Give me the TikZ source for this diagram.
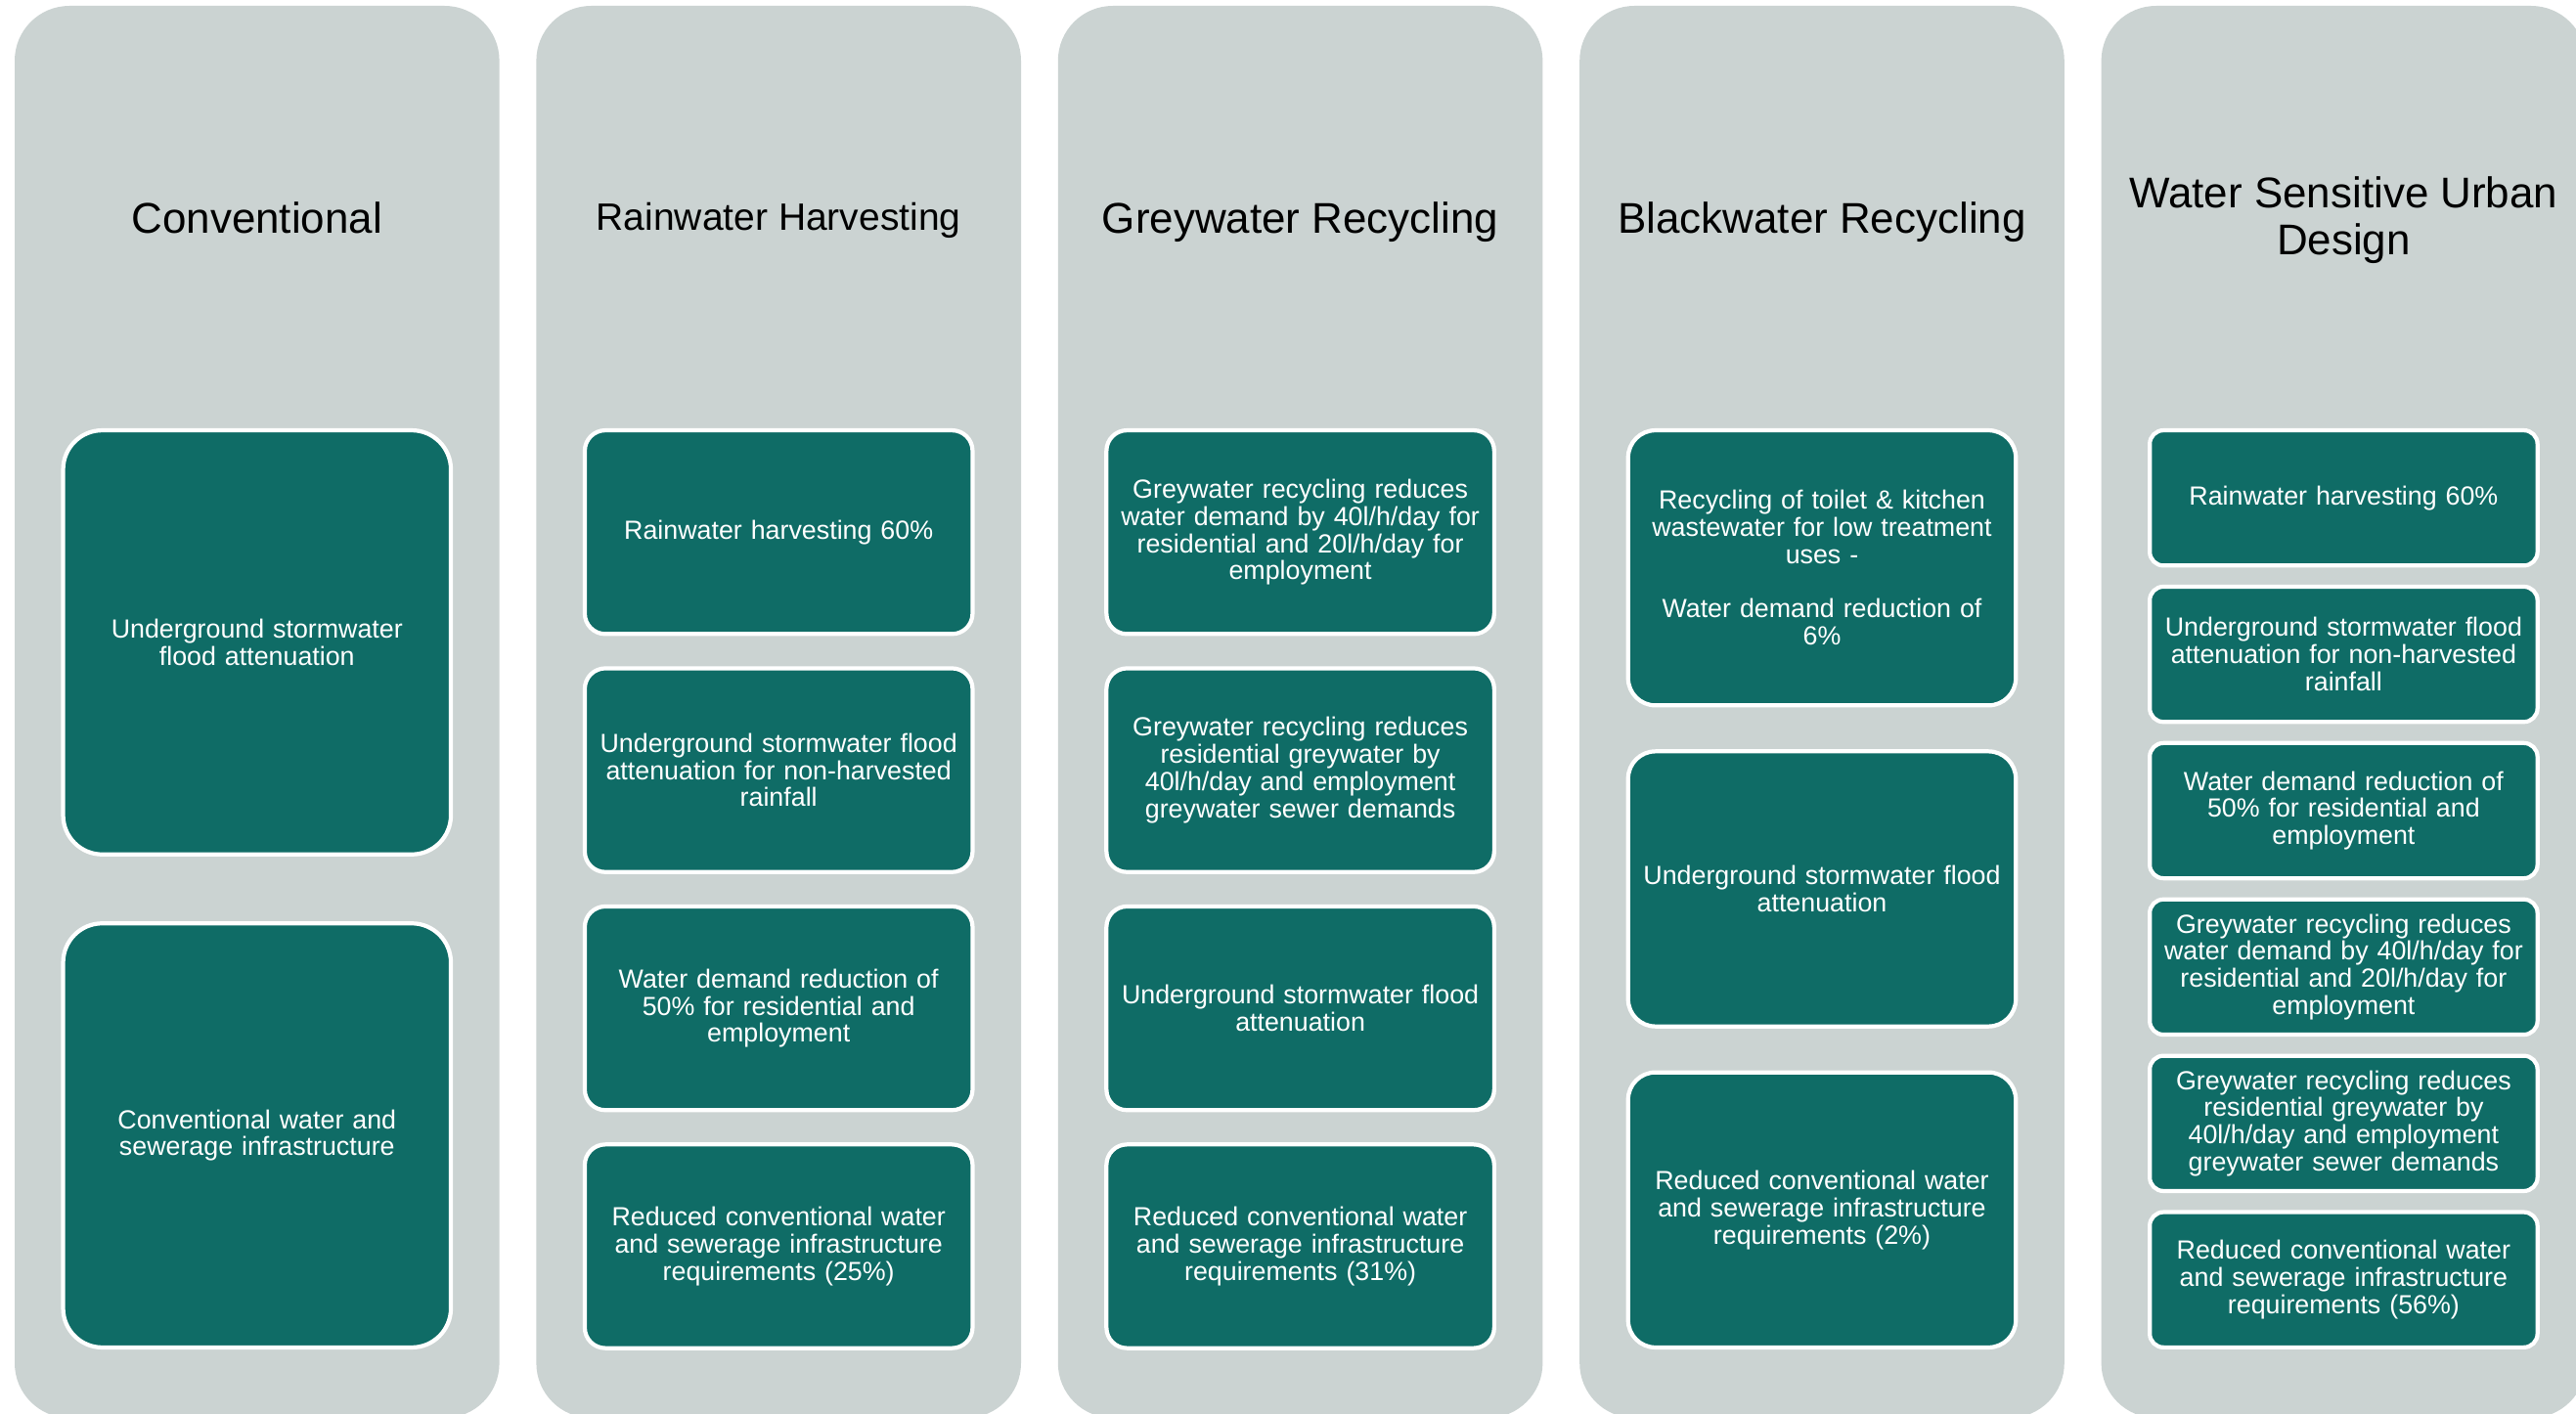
\documentclass[tikz,border=0pt]{standalone}
\usepackage{fontspec}
\setmainfont{Liberation Sans}
\definecolor{lanegrey}{HTML}{CBD3D2}
\definecolor{boxteal}{HTML}{0F6C66}
\begin{document}
\begin{tikzpicture}[
  lane/.style={
    fill=lanegrey,
    rounded corners=0.56cm,
    minimum width=4.956cm,
    minimum height=14.44cm,
    inner sep=0pt
  },
  title/.style={
    align=center,
    anchor=base,
    font=\fontsize{12.5}{13.8}\selectfont
  },
  item/.style={
    draw=white,
    line width=1.2pt,
    fill=boxteal,
    text=white,
    align=center,
    text width=3.8cm,
    minimum width=3.965cm,
    inner sep=0pt,
    font=\fontsize{7.63}{7.9}\selectfont
  },
  pair/.style={item, minimum height=4.337cm, rounded corners=0.40cm},
  four/.style={item, minimum height=2.083cm, rounded corners=0.21cm},
  three/.style={item, minimum height=2.813cm, rounded corners=0.28cm},
  six/.style={item, minimum height=1.383cm, rounded corners=0.14cm}
]
\useasboundingbox (0,0) rectangle (26.34,-14.46);
\clip (0,0) rectangle (26.34,-14.46);

% grey lanes
\node[lane] (laneConv)  at (2.628,-7.28) {};
\node[lane] (laneRain)  at (7.962,-7.28) {};
\node[lane] (laneGrey)  at (13.296,-7.28) {};
\node[lane] (laneBlack) at (18.630,-7.28) {};
\node[lane] (laneWsud)  at (23.964,-7.28) {};

% headings
\node[title] (hConv)  at (2.628,-2.38) {Conventional};
\node[title, font=\fontsize{11.1}{12}\selectfont] (hRain) at (7.962,-2.36) {Rainwater Harvesting};
\node[title] (hGrey)  at (13.296,-2.38) {Greywater Recycling};
\node[title] (hBlack) at (18.630,-2.38) {Blackwater Recycling};
\node[title, anchor=center] (hWsud) at (23.964,-2.25) {Water Sensitive Urban\\Design};

% conventional
\node[pair] (conv1) at (2.628,-6.569) {Underground stormwater\\flood attenuation};
\node[pair] (conv2) at (2.628,-11.611) {Conventional water and\\sewerage infrastructure};

% rainwater harvesting
\node[four] (rain1) at (7.962,-5.442) {Rainwater harvesting 60\%};
\node[four] (rain2) at (7.962,-7.876) {Underground stormwater flood\\attenuation for non-harvested\\rainfall};
\node[four] (rain3) at (7.962,-10.311) {Water demand reduction of\\50\% for residential and\\employment};
\node[four] (rain4) at (7.962,-12.745) {Reduced conventional water\\and sewerage infrastructure\\requirements (25\%)};

% greywater recycling
\node[four] (grey1) at (13.296,-5.442) {Greywater recycling reduces\\water demand by 40l/h/day for\\residential and 20l/h/day for\\employment};
\node[four] (grey2) at (13.296,-7.876) {Greywater recycling reduces\\residential greywater by\\40l/h/day and employment\\greywater sewer demands};
\node[four] (grey3) at (13.296,-10.311) {Underground stormwater flood\\attenuation};
\node[four] (grey4) at (13.296,-12.745) {Reduced conventional water\\and sewerage infrastructure\\requirements (31\%)};

% blackwater recycling
\node[three] (black1) at (18.630,-5.807) {Recycling of toilet \& kitchen\\wastewater for low treatment\\uses -\\[7.9pt]Water demand reduction of\\6\%};
\node[three] (black2) at (18.630,-9.090) {Underground stormwater flood\\attenuation};
\node[three] (black3) at (18.630,-12.373) {Reduced conventional water\\and sewerage infrastructure\\requirements (2\%)};

% water sensitive urban design
\node[six] (wsud1) at (23.964,-5.092) {Rainwater harvesting 60\%};
\node[six] (wsud2) at (23.964,-6.691) {Underground stormwater flood\\attenuation for non-harvested\\rainfall};
\node[six] (wsud3) at (23.964,-8.290) {Water demand reduction of\\50\% for residential and\\employment};
\node[six] (wsud4) at (23.964,-9.889) {Greywater recycling reduces\\water demand by 40l/h/day for\\residential and 20l/h/day for\\employment};
\node[six] (wsud5) at (23.964,-11.488) {Greywater recycling reduces\\residential greywater by\\40l/h/day and employment\\greywater sewer demands};
\node[six] (wsud6) at (23.964,-13.087) {Reduced conventional water\\and sewerage infrastructure\\requirements (56\%)};
\end{tikzpicture}
\end{document}
